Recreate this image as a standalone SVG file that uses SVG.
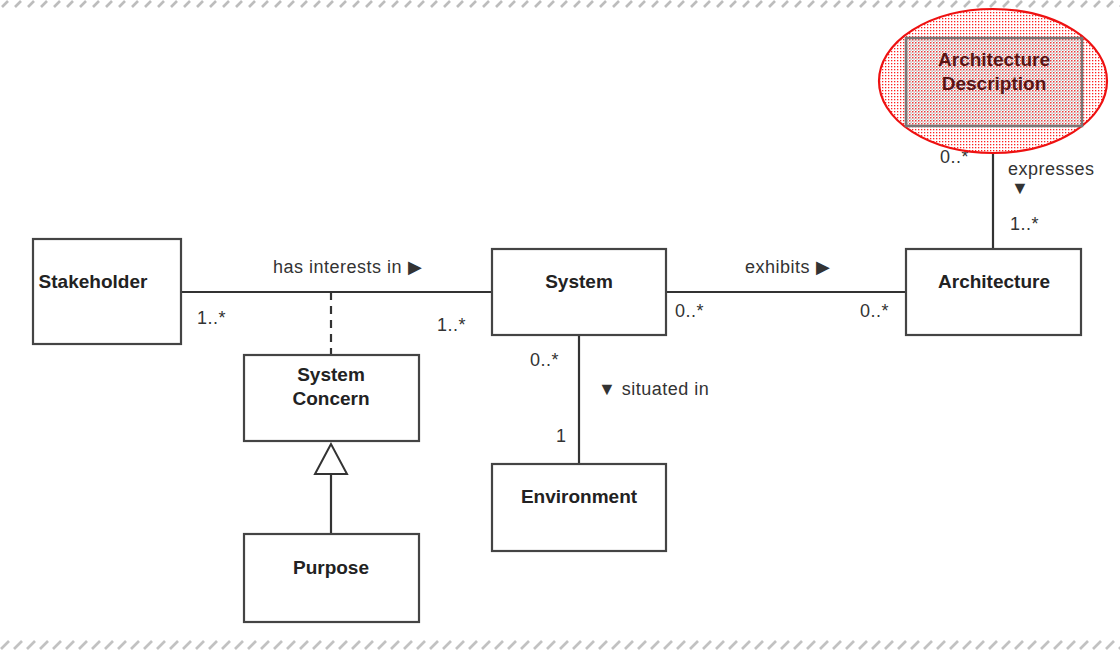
<svg xmlns="http://www.w3.org/2000/svg" width="1120" height="650" viewBox="0 0 1120 650">
<defs>
<pattern id="hatchTop" width="13" height="8" patternUnits="userSpaceOnUse">
<line x1="2" y1="7" x2="8" y2="1" stroke="#bdbdbd" stroke-width="2.6"/>
</pattern>
<pattern id="hatchBot" x="0" y="638" width="13" height="12" patternUnits="userSpaceOnUse">
<line x1="1" y1="11" x2="9" y2="3" stroke="#c2c2c2" stroke-width="2.6"/>
</pattern>
<pattern id="reddots" width="3" height="3" patternUnits="userSpaceOnUse">
<rect x="0" y="0" width="1.3" height="1.3" fill="#ff2020"/>
</pattern>
<pattern id="graydots" width="3" height="3" patternUnits="userSpaceOnUse">
<rect x="0" y="0" width="1.3" height="1.3" fill="#e04040"/>
<rect x="1.5" y="1.5" width="1.2" height="1.2" fill="#9a9a9a"/>
</pattern>
</defs>
<style>
.box{fill:#fff;stroke:#444;stroke-width:2.2}
.name{font-family:"Liberation Sans",Arial,sans-serif;font-weight:bold;font-size:19px;fill:#222;text-anchor:middle}
.lbl{font-family:"Liberation Sans",Arial,sans-serif;font-size:18px;letter-spacing:0.5px;fill:#333}
.edge{stroke:#333;stroke-width:2.2;fill:none}
</style>
<rect width="1120" height="650" fill="#fff"/>
<rect x="0" y="0" width="1120" height="8" fill="url(#hatchTop)"/>
<rect x="0" y="638" width="1120" height="12" fill="url(#hatchBot)"/>

<g id="connectors">
<line class="edge" x1="181" y1="292" x2="492" y2="292"/>
<line class="edge" x1="331" y1="292" x2="331" y2="355" stroke-dasharray="8 6"/>
<line class="edge" x1="666" y1="292" x2="906" y2="292"/>
<line class="edge" x1="579" y1="335" x2="579" y2="464"/>
<line class="edge" x1="993" y1="126" x2="993" y2="249"/>
<line class="edge" x1="331" y1="474" x2="331" y2="534"/>
<polygon points="331,444 315,474 347,474" fill="#fff" stroke="#333" stroke-width="2"/>
<text class="lbl" x="273" y="273">has interests in ▶</text>
<text class="lbl" x="197" y="324">1..*</text>
<text class="lbl" x="437" y="331">1..*</text>
<text class="lbl" x="745" y="273">exhibits ▶</text>
<text class="lbl" x="675" y="317">0..*</text>
<text class="lbl" x="860" y="317">0..*</text>
<text class="lbl" x="530" y="366">0..*</text>
<text class="lbl" x="598" y="395">▼ situated in</text>
<text class="lbl" x="556" y="442">1</text>
<text class="lbl" x="940" y="163">0..*</text>
<text class="lbl" x="1008" y="175">expresses</text>
<text class="lbl" x="1011" y="194">▼</text>
<text class="lbl" x="1010" y="230">1..*</text>
</g>

<g id="stakeholder">
<rect class="box" x="33" y="239" width="148" height="105"/>
<text class="name" x="93" y="288">Stakeholder</text>
</g>
<g id="system">
<rect class="box" x="492" y="249" width="174" height="86"/>
<text class="name" x="579" y="288">System</text>
</g>
<g id="architecture">
<rect class="box" x="906" y="249" width="175" height="86"/>
<text class="name" x="994" y="288">Architecture</text>
</g>
<g id="system-concern">
<rect class="box" x="244" y="355" width="175" height="86"/>
<text class="name" x="331" y="381">System</text>
<text class="name" x="331" y="405">Concern</text>
</g>
<g id="purpose">
<rect class="box" x="244" y="534" width="175" height="88"/>
<text class="name" x="331" y="574">Purpose</text>
</g>
<g id="environment">
<rect class="box" x="492" y="464" width="174" height="87"/>
<text class="name" x="579" y="503">Environment</text>
</g>
<g id="architecture-description">
<ellipse cx="993" cy="81" rx="114" ry="72" fill="#fff"/>
<ellipse cx="993" cy="81" rx="114" ry="72" fill="url(#reddots)" stroke="#ee1111" stroke-width="2.2"/>
<rect x="906" y="38" width="176" height="88" fill="url(#graydots)" stroke="#777" stroke-width="2.5"/>
<text class="name" x="994" y="66" style="fill:#5a1515">Architecture</text>
<text class="name" x="994" y="90" style="fill:#5a1515">Description</text>
</g>
</svg>
